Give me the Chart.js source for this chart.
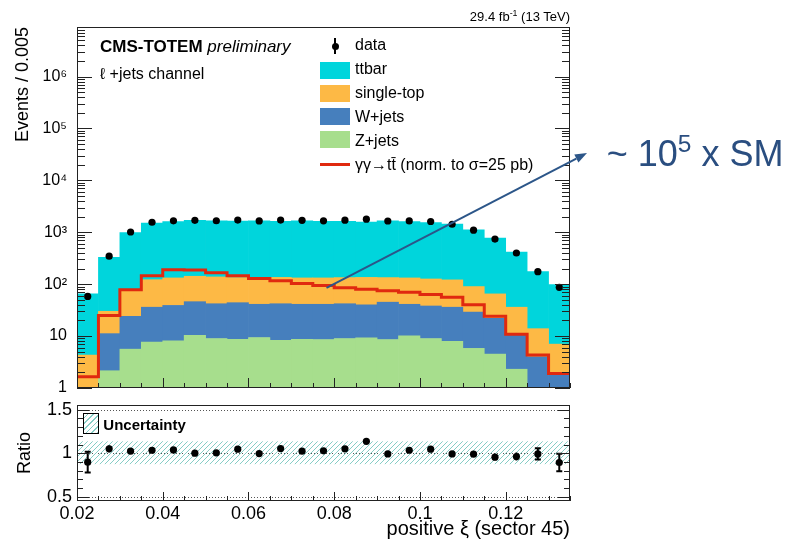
<!DOCTYPE html>
<html>
<head>
<meta charset="utf-8">
<script src="https://cdn.jsdelivr.net/npm/chart.js@4.4.1/dist/chart.umd.min.js"></script>
<style>
  body { margin: 0; background: #fff; font-family: "Liberation Sans", Arial, sans-serif; }
  #wrap { position: relative; width: 788px; height: 539px; overflow: hidden; }
  canvas { position: absolute; left: 0; }
  #topChart { top: 0; }
  #ratioChart { top: 389px; }
  .t { position: absolute; white-space: nowrap; line-height: 1; color: #000; }
  .sw { position: absolute; left: 320px; width: 30px; height: 17px; }
  .sup { font-size: 0.68em; position: relative; top: -0.55em; }
</style>
</head>
<body>
<div id="wrap">
  <canvas id="topChart" width="788" height="408"></canvas>
  <canvas id="ratioChart" width="788" height="150"></canvas>

  <div class="t" style="right:218px; top:10px; font-size:13px;">29.4 fb<span class="sup">-1</span> (13 TeV)</div>
  <div class="t" style="left:100px; top:38px; font-size:17px;"><b>CMS-TOTEM</b> <i>preliminary</i></div>
  <div class="t" style="left:100px; top:65.5px; font-size:16px;">ℓ +jets channel</div>

  <!-- legend -->
  <div style="position:absolute; left:334.3px; top:38px; width:1.5px; height:16px; background:#000;"></div>
  <div style="position:absolute; left:331.5px; top:42.5px; width:7px; height:7px; border-radius:50%; background:#000;"></div>
  <div class="t" style="left:355px; top:37.2px; font-size:16px;">data</div>
  <div class="sw" style="top:61.7px; background:#00d5dc;"></div>
  <div class="t" style="left:355px; top:61px; font-size:16px;">ttbar</div>
  <div class="sw" style="top:85px; background:#fdb945;"></div>
  <div class="t" style="left:355px; top:84.9px; font-size:16px;">single-top</div>
  <div class="sw" style="top:108.4px; background:#467fbd;"></div>
  <div class="t" style="left:355px; top:108.8px; font-size:16px;">W+jets</div>
  <div class="sw" style="top:131.3px; background:#a7de8d;"></div>
  <div class="t" style="left:355px; top:132.6px; font-size:16px;">Z+jets</div>
  <div style="position:absolute; left:320px; top:162.8px; width:30px; height:3px; background:#e0290f;"></div>
  <div class="t" style="left:355px; top:156.5px; font-size:16px;">γγ→tt̄ (norm. to σ=25 pb)</div>

  <div class="t" style="left:606.7px; top:135.5px; font-size:36px; color:#2a4e80;">~ 10<span class="sup">5</span> x SM</div>

  <div style="position:absolute; left:82.7px; top:413.3px; width:14px; height:18.5px; border:1.3px solid #000; background:repeating-linear-gradient(-45deg, #86cdc6 0 1px, #fff 1px 4px);"></div>
  <div class="t" style="left:103.3px; top:416.6px; font-size:15px; font-weight:bold;">Uncertainty</div>
</div>

<script>
// bins of positive xi, width 0.005
const binCenters = [0.0225, 0.0275, 0.0325, 0.0375, 0.0425, 0.0475, 0.0525, 0.0575, 0.0625, 0.0675, 0.0725, 0.0775,
                    0.0825, 0.0875, 0.0925, 0.0975, 0.1025, 0.1075, 0.1125, 0.1175, 0.1225, 0.1275, 0.1325];
const binWidth = 0.005;

// stacked backgrounds (events per bin)
const zjets     = [0.2, 2.15, 5.6, 7.7, 8.1, 10.4, 9.0, 8.7, 9.4, 8.3, 8.7, 8.6, 9.0, 9.3, 8.6, 10.1, 9.0, 7.9, 5.8, 4.5, 2.3, 0.3, 0.2];
const wjets     = [0.3, 9.0, 18.4, 28.3, 30.9, 35.6, 33, 35.3, 31.6, 33.7, 32.3, 32.4, 33, 30.7, 36.4, 30.9, 29, 28.1, 23.2, 17.5, 8.4, 3.7, 1.6];
const singleTop = [3.8, 18.9, 54, 86, 93, 96, 96, 90, 89, 93, 91, 91, 92, 95, 89, 91, 88, 85, 61, 43, 25.3, 9.9, 5.2];
const ttbar     = [61, 300, 912, 1388, 1468, 1558, 1522, 1506, 1530, 1495, 1528, 1488, 1496, 1435, 1526, 1468, 1414, 1319, 1020, 710, 379, 161, 91];

// gamma gamma -> ttbar signal, norm. to 25 pb
const signal = [1.65, 25, 78, 146, 190, 188, 166, 145, 128, 116, 103, 94, 85, 80, 75, 70, 63, 56, 40, 24, 10.8, 4.3, 1.9];

// observed data
const dataCounts = [58, 347, 1013, 1561, 1661, 1700, 1667, 1715, 1653, 1716, 1698, 1664, 1711, 1785, 1647, 1654, 1611, 1428, 1098, 739, 399, 174, 87];

// ratio panel
const ratio    = [0.897, 1.05, 1.023, 1.034, 1.038, 1.0, 1.004, 1.046, 0.996, 1.053, 1.023, 1.027, 1.05, 1.137, 0.992, 1.034, 1.046, 0.992, 0.989, 0.954, 0.962, 0.992, 0.893];
const ratioErr = [0.12, 0.04, 0.02, 0.02, 0.02, 0.02, 0.02, 0.02, 0.02, 0.02, 0.02, 0.02, 0.02, 0.025, 0.025, 0.025, 0.025, 0.025, 0.03, 0.035, 0.045, 0.065, 0.1];
const uncLow   = [0.878, 0.878, 0.878, 0.878, 0.878, 0.878, 0.878, 0.878, 0.878, 0.878, 0.878, 0.878, 0.878, 0.878, 0.878, 0.878, 0.878, 0.878, 0.878, 0.878, 0.878, 0.878, 0.878];
const uncHigh  = [1.133, 1.133, 1.133, 1.133, 1.133, 1.133, 1.133, 1.133, 1.133, 1.133, 1.133, 1.133, 1.133, 1.133, 1.133, 1.133, 1.133, 1.133, 1.133, 1.133, 1.133, 1.133, 1.133];

// tick labels
const xLabels = [0.02, 0.04, 0.06, 0.08, 0.1, 0.12];
const decadeLabels = ['1', '10', '10²', '10³', '10⁴', '10⁵', '10⁶'];
const ratioLabels = [0.5, 1, 1.5];

// arrow annotation: from a point in data coordinates to a pixel on the page
const arrowFrom = [0.0782, 85];
const arrowTip = [587, 153];

Chart.defaults.font.family = '"Liberation Sans", Arial, sans-serif';
Chart.defaults.color = '#000';

const isMult = (v, s) => Math.abs(v / s - Math.round(v / s)) < 1e-6;

function tickKind(mode, v) {
  if (mode === 'x') return isMult(v, 0.02) ? 2 : (isMult(v, 0.005) ? 1 : 0);
  if (mode === 'ratio') return isMult(v, 0.5) ? 2 : (isMult(v, 0.1) ? 1 : 0);
  // log axis
  const e = Math.floor(Math.log10(v) + 1e-9);
  const m = v / Math.pow(10, e);
  if (Math.abs(m - 1) < 1e-6) return 2;
  return Math.abs(m - Math.round(m)) < 1e-6 ? 1 : 0;
}

// ROOT-like frame with ticks inside, mirrored on the right
const frameTicks = {
  id: 'frameTicks',
  afterDraw(chart, args, o) {
    const {ctx, chartArea: a} = chart;
    const xs = chart.scales.x, ys = chart.scales.y;
    ctx.save();
    ctx.strokeStyle = '#222';
    ctx.lineWidth = 1;
    ctx.beginPath();
    xs.ticks.forEach(t => {
      const k = tickKind('x', t.value);
      if (!k) return;
      const px = Math.round(xs.getPixelForValue(t.value)) + 0.5;
      ctx.moveTo(px, a.bottom);
      ctx.lineTo(px, a.bottom - (k === 2 ? o.xMajor : o.xMinor));
    });
    ys.ticks.forEach(t => {
      const k = tickKind(o.yMode, t.value);
      if (!k) return;
      const py = Math.round(ys.getPixelForValue(t.value)) + 0.5;
      const len = k === 2 ? o.yMajor : o.yMinor;
      ctx.moveTo(a.left, py); ctx.lineTo(a.left + len, py);
      ctx.moveTo(a.right, py); ctx.lineTo(a.right - len, py);
    });
    ctx.stroke();
    ctx.strokeRect(Math.round(a.left) + 0.5, Math.round(a.top) + 0.5,
                   Math.round(a.right - a.left) - 1, Math.round(a.bottom - a.top) - 1);
    ctx.restore();
  }
};

const arrowNote = {
  id: 'arrowNote',
  afterDraw(chart) {
    const {ctx} = chart;
    const x0 = chart.scales.x.getPixelForValue(arrowFrom[0]);
    const y0 = chart.scales.y.getPixelForValue(arrowFrom[1]);
    const [x1, y1] = arrowTip;
    const ang = Math.atan2(y1 - y0, x1 - x0);
    const head = 12, half = 4.5;
    ctx.save();
    ctx.strokeStyle = '#2c5689';
    ctx.fillStyle = '#2c5689';
    ctx.lineWidth = 2;
    ctx.beginPath();
    ctx.moveTo(x0, y0);
    ctx.lineTo(x1 - head * Math.cos(ang), y1 - head * Math.sin(ang));
    ctx.stroke();
    ctx.beginPath();
    ctx.moveTo(x1, y1);
    ctx.lineTo(x1 - head * Math.cos(ang) - half * Math.sin(ang), y1 - head * Math.sin(ang) + half * Math.cos(ang));
    ctx.lineTo(x1 - head * Math.cos(ang) + half * Math.sin(ang), y1 - head * Math.sin(ang) - half * Math.cos(ang));
    ctx.closePath();
    ctx.fill();
    ctx.restore();
  }
};

// top panel
const edges = binCenters.map(c => c - binWidth / 2).concat([binCenters[binCenters.length - 1] + binWidth / 2]);
const signalSteps = edges.map((x, i) => ({x, y: signal[Math.min(i, signal.length - 1)]}));
const toXY = arr => binCenters.map((x, i) => ({x, y: arr[i]}));

const barStyle = {type: 'bar', barPercentage: 1, categoryPercentage: 1, borderWidth: 0, stack: 'bkg'};
const noGrid = {display: false, drawTicks: false};

new Chart(document.getElementById('topChart'), {
  type: 'bar',
  data: {
    datasets: [
      {type: 'line', label: 'data', data: toXY(dataCounts), showLine: false, stack: 'obs',
       pointRadius: 3.6, pointBackgroundColor: '#000', pointBorderWidth: 0},
      {type: 'line', label: 'γγ→tt̄', data: signalSteps, stepped: true, stack: 'sig',
       borderColor: '#e0290f', borderWidth: 3, pointRadius: 0, fill: false},
      {...barStyle, label: 'Z+jets', data: toXY(zjets), backgroundColor: '#a7de8d'},
      {...barStyle, label: 'W+jets', data: toXY(wjets), backgroundColor: '#467fbd'},
      {...barStyle, label: 'single-top', data: toXY(singleTop), backgroundColor: '#fdb945'},
      {...barStyle, label: 'ttbar', data: toXY(ttbar), backgroundColor: '#00d5dc'}
    ]
  },
  options: {
    responsive: false,
    animation: false,
    events: [],
    layout: {padding: {left: 0, top: 27, right: 218, bottom: 0}, autoPadding: false},
    plugins: {
      legend: {display: false},
      tooltip: {enabled: false},
      frameTicks: {xMajor: 10, xMinor: 5, yMajor: 15, yMinor: 8, yMode: 'log'}
    },
    scales: {
      x: {
        type: 'linear', min: 0.02, max: 0.135, stacked: true, offset: false,
        grid: noGrid, border: {display: false},
        ticks: {display: false, stepSize: binWidth, maxTicksLimit: 100, autoSkip: false},
        afterFit: s => { s.height = 20; }
      },
      y: {
        type: 'logarithmic', min: 1, max: 9e6, stacked: true,
        grid: noGrid, border: {display: false},
        ticks: {
          autoSkip: false, padding: 10, font: {size: 16}, color: '#000',
          callback: v => tickKind('log', v) === 2 ? decadeLabels[Math.round(Math.log10(v))] : ''
        },
        title: {display: true, text: 'Events / 0.005', align: 'end', font: {size: 18}, padding: {top: 12, bottom: 0}},
        afterFit: s => { s.width = 77; }
      }
    }
  },
  plugins: [frameTicks, arrowNote]
});

// ratio panel
const hatch = document.createElement('canvas');
hatch.width = 5; hatch.height = 5;
const hc = hatch.getContext('2d');
hc.strokeStyle = '#86cdc6';
hc.lineWidth = 1;
hc.beginPath();
for (const k of [-5, 0, 5]) { hc.moveTo(k, 5); hc.lineTo(k + 5, 0); }
hc.stroke();
const hatchPattern = hc.createPattern(hatch, 'repeat');

const refLines = {
  id: 'refLines',
  beforeDatasetsDraw(chart) {
    const {ctx, chartArea: a} = chart;
    const ys = chart.scales.y;
    ctx.save();
    ctx.strokeStyle = '#555';
    ctx.lineWidth = 1;
    ctx.setLineDash([1, 2]);
    ctx.beginPath();
    ratioLabels.forEach(v => {
      const py = Math.round(ys.getPixelForValue(v)) + 0.5;
      ctx.moveTo(a.left, py); ctx.lineTo(a.right, py);
    });
    ctx.stroke();
    ctx.restore();
  }
};

const errorBars = {
  id: 'errorBars',
  afterDatasetsDraw(chart) {
    const {ctx} = chart;
    const xs = chart.scales.x, ys = chart.scales.y;
    chart.data.datasets.forEach(ds => {
      if (!ds.errors) return;
      ctx.save();
      ctx.strokeStyle = '#000';
      ctx.lineWidth = 2;
      ctx.beginPath();
      ds.data.forEach((p, i) => {
        const px = xs.getPixelForValue(p.x);
        const lo = ys.getPixelForValue(p.y - ds.errors[i]);
        const hi = ys.getPixelForValue(p.y + ds.errors[i]);
        ctx.moveTo(px, lo); ctx.lineTo(px, hi);
        if ((lo - hi) / 2 > 5) {
          ctx.moveTo(px - 3, lo); ctx.lineTo(px + 3, lo);
          ctx.moveTo(px - 3, hi); ctx.lineTo(px + 3, hi);
        }
      });
      ctx.stroke();
      ctx.restore();
    });
  }
};

new Chart(document.getElementById('ratioChart'), {
  type: 'bar',
  data: {
    datasets: [
      {type: 'line', label: 'data/MC', data: toXY(ratio), errors: ratioErr, showLine: false,
       pointRadius: 3.6, pointBackgroundColor: '#000', pointBorderWidth: 0},
      {type: 'bar', label: 'Uncertainty', data: binCenters.map((x, i) => ({x, y: [uncLow[i], uncHigh[i]]})),
       backgroundColor: hatchPattern, borderWidth: 0, barPercentage: 1, categoryPercentage: 1}
    ]
  },
  options: {
    responsive: false,
    animation: false,
    events: [],
    layout: {padding: {left: 0, top: 16, right: 218, bottom: 0}, autoPadding: false},
    plugins: {
      legend: {display: false},
      tooltip: {enabled: false},
      frameTicks: {xMajor: 9, xMinor: 5, yMajor: 12, yMinor: 6, yMode: 'ratio'}
    },
    scales: {
      x: {
        type: 'linear', min: 0.02, max: 0.135, offset: false,
        grid: noGrid, border: {display: false},
        ticks: {
          stepSize: binWidth, maxTicksLimit: 100, autoSkip: false, maxRotation: 0, minRotation: 0,
          padding: 2, font: {size: 18}, color: '#000',
          callback: v => xLabels.some(l => Math.abs(l - v) < 1e-6) ? String(+v.toFixed(3)) : ''
        },
        title: {display: true, text: 'positive ξ (sector 45)', align: 'end', font: {size: 20, lineHeight: 1}, padding: {top: 0, bottom: 0}},
        afterFit: s => { s.height = 38; }
      },
      y: {
        type: 'linear', min: 0.45, max: 1.555,
        grid: noGrid, border: {display: false},
        ticks: {
          stepSize: 0.1, maxTicksLimit: 100, autoSkip: false, includeBounds: false, padding: 5, font: {size: 18}, color: '#000',
          callback: v => ratioLabels.some(l => Math.abs(l - v) < 1e-6) ? String(+v.toFixed(1)) : ''
        },
        title: {display: true, text: 'Ratio', font: {size: 18}, padding: {top: 14, bottom: 0}},
        afterFit: s => { s.width = 77; }
      }
    }
  },
  plugins: [refLines, frameTicks, errorBars]
});
</script>
</body>
</html>
